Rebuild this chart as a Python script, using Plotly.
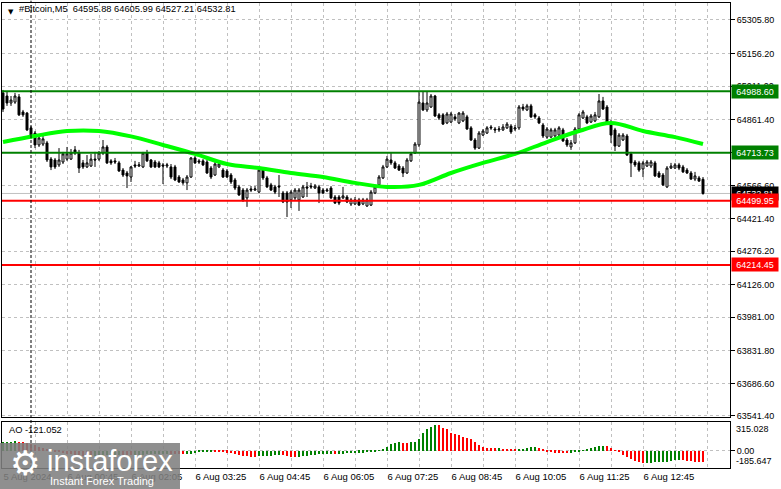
import plotly.graph_objects as go
import pandas as pd

# 5-minute bars, #Bitcoin M5, 5 Aug 23:25 .. 6 Aug 14:00
bar_time = pd.date_range("2024-08-05 23:25", periods=176, freq="5min")
bar_index = list(range(len(bar_time)))

open_ = [64981, 64967, 64936, 64940, 64963, 64896, 64891, 64825, 64802, 64749,
         64753, 64758, 64686, 64682, 64660, 64673, 64686, 64686, 64727, 64713,
         64669, 64651, 64655, 64686, 64686, 64713, 64740, 64678, 64678, 64669,
         64637, 64624, 64606, 64660, 64655, 64651, 64713, 64682, 64673, 64669,
         64660, 64655, 64651, 64651, 64606, 64593, 64580, 64606, 64691, 64678,
         64678, 64673, 64646, 64615, 64651, 64637, 64633, 64615, 64593, 64562,
         64548, 64513, 64553, 64548, 64539, 64637, 64602, 64571, 64562, 64566,
         64535, 64535, 64504, 64513, 64504, 64517, 64562, 64566, 64557, 64562,
         64548, 64544, 64557, 64517, 64517, 64513, 64517, 64486, 64486, 64504,
         64486, 64477, 64481, 64535, 64571, 64602, 64651, 64682, 64669, 64655,
         64646, 64624, 64678, 64713, 64749, 64936, 64905, 64918, 64967, 64883,
         64883, 64847, 64851, 64874, 64847, 64856, 64874, 64825, 64771, 64735,
         64793, 64802, 64829, 64820, 64816, 64816, 64825, 64833, 64820, 64825,
         64918, 64905, 64923, 64883, 64869, 64838, 64784, 64784, 64789, 64793,
         64816, 64771, 64740, 64758, 64820, 64869, 64874, 64851, 64856, 64874,
         64945, 64918, 64851, 64816, 64744, 64771, 64789, 64709, 64673, 64669,
         64642, 64655, 64655, 64669, 64624, 64615, 64562, 64646, 64646, 64660,
         64651, 64637, 64624, 64597, 64602, 64595.88]

high = [64994, 64985, 64967, 64981, 64976, 64905, 64896, 64833, 64811, 64789,
        64789, 64767, 64695, 64691, 64735, 64718, 64740, 64731, 64744, 64727,
        64682, 64704, 64709, 64718, 64722, 64771, 64749, 64686, 64691, 64678,
        64646, 64633, 64655, 64678, 64673, 64718, 64727, 64686, 64682, 64678,
        64669, 64669, 64664, 64660, 64615, 64602, 64615, 64695, 64700, 64686,
        64686, 64682, 64655, 64673, 64673, 64646, 64642, 64624, 64602, 64571,
        64557, 64557, 64566, 64566, 64646, 64646, 64611, 64580, 64571, 64615,
        64544, 64544, 64548, 64557, 64557, 64571, 64584, 64580, 64575, 64571,
        64557, 64557, 64566, 64526, 64526, 64562, 64526, 64513, 64517, 64513,
        64513, 64513, 64548, 64571, 64615, 64660, 64700, 64713, 64678, 64664,
        64655, 64691, 64718, 64762, 64989, 64985, 64989, 64976, 64972, 64891,
        64891, 64896, 64896, 64887, 64896, 64900, 64883, 64833, 64780, 64811,
        64820, 64833, 64838, 64829, 64833, 64842, 64851, 64842, 64838, 64927,
        64932, 64932, 64932, 64891, 64878, 64847, 64829, 64825, 64825, 64833,
        64825, 64780, 64771, 64829, 64891, 64905, 64883, 64887, 64896, 64976,
        64963, 64927, 64860, 64825, 64802, 64802, 64798, 64718, 64682, 64678,
        64678, 64682, 64682, 64678, 64633, 64624, 64655, 64669, 64669, 64669,
        64660, 64646, 64633, 64629, 64611, 64605.99]

low = [64896, 64923, 64923, 64932, 64878, 64874, 64811, 64776, 64735, 64740,
       64744, 64673, 64637, 64642, 64651, 64664, 64678, 64682, 64704, 64624,
       64642, 64646, 64651, 64651, 64678, 64704, 64664, 64660, 64664, 64629,
       64606, 64557, 64584, 64646, 64651, 64646, 64673, 64646, 64646, 64646,
       64575, 64646, 64597, 64588, 64580, 64571, 64548, 64602, 64664, 64664,
       64655, 64620, 64597, 64611, 64646, 64602, 64602, 64575, 64548, 64522,
       64495, 64473, 64539, 64544, 64535, 64593, 64557, 64544, 64530, 64517,
       64490, 64428, 64468, 64504, 64455, 64513, 64517, 64553, 64553, 64490,
       64530, 64539, 64508, 64486, 64481, 64508, 64490, 64477, 64481, 64477,
       64481, 64473, 64477, 64530, 64566, 64597, 64646, 64660, 64642, 64633,
       64606, 64620, 64673, 64709, 64740, 64900, 64896, 64914, 64874, 64860,
       64838, 64842, 64847, 64856, 64842, 64851, 64816, 64767, 64727, 64731,
       64789, 64798, 64816, 64802, 64807, 64811, 64820, 64798, 64811, 64816,
       64900, 64900, 64869, 64865, 64842, 64780, 64776, 64780, 64784, 64789,
       64762, 64740, 64727, 64753, 64816, 64865, 64842, 64847, 64851, 64869,
       64905, 64842, 64758, 64722, 64740, 64767, 64700, 64606, 64651, 64629,
       64606, 64651, 64646, 64606, 64602, 64566, 64557, 64642, 64642, 64637,
       64624, 64620, 64593, 64588, 64584, 64527.21]

close = [64909, 64936, 64949, 64967, 64883, 64883, 64816, 64784, 64749, 64780,
         64776, 64682, 64651, 64651, 64682, 64709, 64709, 64713, 64713, 64646,
         64651, 64669, 64686, 64682, 64713, 64740, 64669, 64669, 64673, 64633,
         64615, 64611, 64651, 64655, 64660, 64713, 64678, 64651, 64651, 64651,
         64655, 64660, 64606, 64593, 64584, 64580, 64606, 64691, 64669, 64673,
         64660, 64624, 64606, 64664, 64664, 64606, 64606, 64584, 64557, 64526,
         64504, 64548, 64548, 64553, 64637, 64602, 64562, 64548, 64539, 64562,
         64495, 64495, 64539, 64548, 64548, 64562, 64557, 64562, 64566, 64535,
         64535, 64548, 64513, 64490, 64490, 64522, 64495, 64504, 64504, 64481,
         64504, 64504, 64539, 64562, 64606, 64651, 64686, 64669, 64646, 64637,
         64624, 64682, 64709, 64753, 64940, 64905, 64936, 64967, 64878, 64869,
         64842, 64887, 64887, 64865, 64891, 64891, 64820, 64771, 64735, 64802,
         64811, 64825, 64825, 64816, 64820, 64829, 64842, 64807, 64825, 64918,
         64909, 64923, 64874, 64874, 64847, 64789, 64820, 64816, 64816, 64825,
         64767, 64749, 64758, 64820, 64883, 64896, 64847, 64878, 64883, 64945,
         64909, 64847, 64793, 64744, 64793, 64793, 64704, 64669, 64660, 64637,
         64669, 64673, 64673, 64611, 64606, 64571, 64646, 64655, 64660, 64646,
         64629, 64624, 64597, 64611, 64588, 64532.81]

# moving average, read every 8 bars
ma_bar = [0, 8, 16, 24, 32, 40, 48, 56, 64, 72, 80, 88, 96, 104, 112, 120,
          128, 136, 144, 152, 160, 168, 175]
ma_value = [64762, 64789, 64811, 64811, 64787, 64749, 64709, 64664, 64646,
            64624, 64606, 64580, 64562, 64571, 64624, 64669, 64709, 64762,
            64811, 64847, 64811, 64784, 64753]

# Awesome Oscillator histogram
ao = [96, 99, 101, 103, 100, 95, 86, 74, 60, 46,
      33, 20, 8, -4, -14, -22, -30, -37, -43, -48,
      -52, -55, -56, -55, -53, -50, -48, -47, -45, -44,
      -45, -47, -48, -46, -43, -40, -37, -35, -33, -31,
      -30, -29, -30, -32, -33, -34, -33, -30, -24, -16,
      -10, -6, -4, -5, -9, -14, -20, -27, -36, -45,
      -52, -58, -62, -64, -60, -56, -52, -50, -48, -46,
      -48, -55, -62, -66, -62, -55, -50, -44, -40, -38,
      -36, -33, -32, -33, -31, -28, -27, -24, -22, -21,
      -18, -15, -10, -4, 5, 20, 45, 75, 88, 92,
      90, 88, 92, 100, 134, 200, 236, 265, 280, 278,
      254, 236, 200, 189, 171, 156, 145, 127, 98, 62,
      47, 36, 30, 28, 32, 25, 22, 20, 18, 22,
      26, 30, 38, 42, 35, 15, -6, -12, -18, -20,
      -22, -24, -20, -14, -8, 8, 18, 32, 44, 52,
      56, 50, 30, 5, -15, -40, -65, -90, -110, -122,
      -128, -127, -126, -125, -124, -122, -118, -110, -100, -95,
      -100, -105, -112, -117, -119, -121.052]
ao_min, ao_max = -185.647, 315.028

tick_labels = ["5 Aug 2024", "6 Aug 00:45", "6 Aug 02:05", "6 Aug 03:25",
               "6 Aug 04:45", "6 Aug 06:05", "6 Aug 07:25", "6 Aug 08:45",
               "6 Aug 10:05", "6 Aug 11:25", "6 Aug 12:45"]
price_ticks = [65305.80, 65156.20, 65011.00, 64861.40, 64716.20, 64566.60,
               64421.40, 64276.20, 64126.00, 63981.00, 63831.80, 63686.60,
               63541.40]

resistance = [64988.60, 64713.73]
support = [64499.95, 64214.45]
bid = 64532.81
title_text = "#Bitcoin,M5  64595.88 64605.99 64527.21 64532.81"

FONT = "Liberation Sans"
GRID = "#c0c0c0"

# AO bar is green when it rises, red when it falls
ao_colors = ["#008000" if i == 0 or ao[i] >= ao[i - 1] else "#ff0000"
             for i in range(len(ao))]
# period separator at the first bar of 6 Aug
day_start = int(((bar_time.hour == 0) & (bar_time.minute == 0)).argmax())

grid_vals = list(range(0, len(bar_index) + 1, 8))
grid_text = [tick_labels[k // 16] if k % 16 == 0 and k // 16 < len(tick_labels) else ""
             for k in grid_vals]

fig = go.Figure()
fig.add_trace(go.Candlestick(
    x=bar_index, open=open_, high=high, low=low, close=close,
    increasing=dict(line=dict(color="black", width=1), fillcolor="white"),
    decreasing=dict(line=dict(color="black", width=1), fillcolor="black"),
    whiskerwidth=0, hoverinfo="skip", showlegend=False,
    xaxis="x", yaxis="y"))
fig.add_trace(go.Scatter(
    x=ma_bar, y=ma_value, mode="lines",
    line=dict(color="#00ff00", width=4, shape="spline", smoothing=1.0),
    hoverinfo="skip", showlegend=False, xaxis="x", yaxis="y"))
fig.add_trace(go.Bar(
    x=bar_index, y=ao, marker=dict(color=ao_colors, line=dict(width=0)),
    width=0.25, hoverinfo="skip", showlegend=False, xaxis="x2", yaxis="y2"))

shapes = []
for lvl in resistance:
    shapes.append(dict(type="line", xref="x domain", x0=0, x1=1, yref="y",
                       y0=lvl, y1=lvl, line=dict(color="#008000", width=2)))
for lvl in support:
    shapes.append(dict(type="line", xref="x domain", x0=0, x1=1, yref="y",
                       y0=lvl, y1=lvl, line=dict(color="#ff0000", width=2)))
shapes.append(dict(type="line", xref="x domain", x0=0, x1=1, yref="y",
                   y0=bid, y1=bid, line=dict(color="#c0c0c0", width=1), layer="below"))
# day separator
shapes.append(dict(type="line", xref="x", x0=day_start, x1=day_start, yref="paper",
                   y0=0, y1=1.005, line=dict(color="black", width=1, dash="3px,2px")))
# watermark box
shapes.append(dict(type="rect", xref="paper", yref="paper", x0=-0.003, x1=0.2445,
                   y0=-0.046, y1=0.054, fillcolor="rgba(128,128,128,0.88)",
                   line=dict(width=0), layer="above"))

annotations = [
    dict(text="▼", xref="paper", yref="paper", x=0, y=1, xanchor="left", yanchor="top",
         xshift=4, yshift=-3, showarrow=False, font=dict(family="DejaVu Sans", size=7, color="black")),
    dict(text=title_text, xref="paper", yref="paper", x=0, y=1, xanchor="left", yanchor="top",
         xshift=15, yshift=1, showarrow=False, font=dict(family=FONT, size=9.3, color="black")),
    dict(text="AO -121.052", xref="paper", yref="y2 domain", x=0, y=1, xanchor="left",
         yanchor="top", xshift=5, yshift=-1, showarrow=False,
         font=dict(family=FONT, size=9.3, color="black")),
    dict(text="315.028", xref="paper", yref="y2 domain", x=1, y=1, xanchor="left",
         yanchor="top", xshift=4, yshift=0, showarrow=False,
         font=dict(family=FONT, size=9, color="black")),
    dict(text="-185.647", xref="paper", yref="y2 domain", x=1, y=0, xanchor="left",
         yanchor="bottom", xshift=4, yshift=0, showarrow=False,
         font=dict(family=FONT, size=9, color="black")),
]
for lvl, col in [(resistance[0], "#008000"), (resistance[1], "#008000"),
                 (bid, "black"), (support[0], "#ff0000"), (support[1], "#ff0000")]:
    annotations.append(dict(text=f"{lvl:.2f}", xref="paper", yref="y", x=1, y=lvl,
                            xanchor="left", yanchor="middle", xshift=1, showarrow=False,
                            bgcolor=col, width=44, height=11, borderpad=1,
                            font=dict(family=FONT, size=9, color="white")))
# watermark text
annotations += [
    dict(text="⚙", xref="paper", yref="paper", x=0.031, y=0.01, xanchor="center",
         yanchor="middle", showarrow=False, font=dict(family="DejaVu Sans", size=34, color="white")),
    dict(text="instaforex", xref="paper", yref="paper", x=0.059, y=0.016, xanchor="left",
         yanchor="middle", showarrow=False, font=dict(family=FONT, size=29, color="white")),
    dict(text="Instant Forex Trading", xref="paper", yref="paper", x=0.063, y=-0.028,
         xanchor="left", yanchor="middle", showarrow=False,
         font=dict(family=FONT, size=11, color="white")),
]

axis_common = dict(showline=True, mirror=True, linecolor="black", linewidth=1,
                   zeroline=False, gridcolor=GRID, griddash="3px,3px", gridwidth=1)

fig.update_layout(
    width=781, height=489,
    margin=dict(l=2, r=51, t=3, b=21),
    paper_bgcolor="white", plot_bgcolor="white",
    showlegend=False, bargap=0,
    font=dict(family=FONT, size=9, color="black"),
    xaxis=dict(domain=[0, 1], anchor="y", range=[-0.25, 181.75],
               tickmode="array", tickvals=grid_vals, showticklabels=False, ticks="",
               rangeslider=dict(visible=False), showgrid=True, **axis_common),
    xaxis2=dict(domain=[0, 1], anchor="y2", matches="x", range=[-0.25, 181.75],
                tickmode="array", tickvals=grid_vals, ticktext=grid_text,
                ticks="", ticklabelposition="outside right", showgrid=True,
                tickfont=dict(family=FONT, size=9.5, color="black"), **axis_common),
    yaxis=dict(domain=[0.1097, 1], anchor="x", side="right", range=[63536.8, 65381.5],
               tickmode="array", tickvals=price_ticks, tickformat=".2f",
               ticks="outside", ticklen=4, tickcolor="black", showgrid=True,
               tickfont=dict(family=FONT, size=9, color="black"), **axis_common),
    yaxis2=dict(domain=[0, 0.0989], anchor="x2", side="right", range=[ao_min, ao_max],
                tickmode="array", tickvals=[0], ticktext=["0.00"],
                ticks="outside", ticklen=4, tickcolor="black", showgrid=True,
                tickfont=dict(family=FONT, size=9, color="black"), **axis_common),
    shapes=shapes,
    annotations=annotations,
)

# the page body has a default 8px margin; drop it so the chart sits at the window corner
fig.write_html("out.html", config={"displayModeBar": False},
               post_script="document.body.style.margin='0';")
